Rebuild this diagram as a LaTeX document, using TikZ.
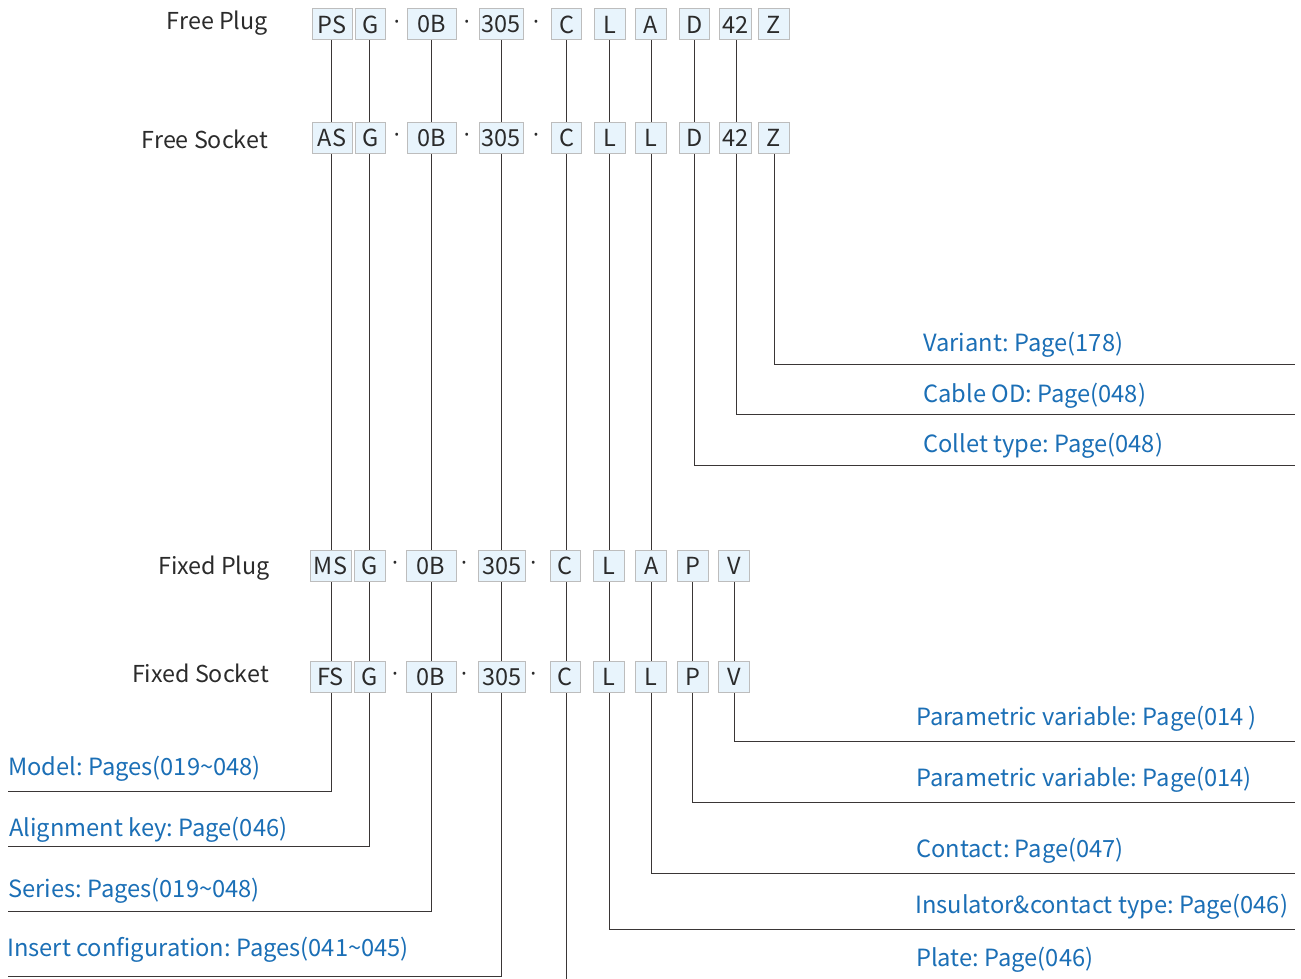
\documentclass[tikz,border=0pt]{standalone}
\usepackage{fontspec}
\setmainfont{Noto Sans CJK SC}
\newfontfamily\dotfont{Noto Sans}
\definecolor{boxfill}{HTML}{E8F4FC}
\definecolor{boxdraw}{HTML}{BDBDBD}
\definecolor{lbl}{HTML}{1B6FB6}
\definecolor{txt}{HTML}{2B2B2B}
\definecolor{ln}{HTML}{3A3636}
\tikzset{
  cell/.style={draw=boxdraw, fill=boxfill, line width=1pt, inner sep=0pt, minimum height=31pt, text=txt, font=\fontsize{23.5}{26}\selectfont},
  sepdot/.style={inner sep=0pt, text=txt, font=\dotfont\fontsize{22}{26}\selectfont},
  rowlbl/.style={anchor=east, inner sep=0pt, text=txt, font=\fontsize{23.3}{26}\selectfont},
  info/.style={anchor=west, inner sep=0pt, text=lbl, font=\fontsize{23.7}{26}\selectfont},
  conn/.style={draw=ln, line width=1.1pt}
}
\begin{document}
\frenchspacing
\begin{tikzpicture}[x=1pt,y=-1pt]
\useasboundingbox[fill=white] (0,0) rectangle (1301,979);
% row labels
\node[rowlbl] (lfp) at (268,23.5) {Free Plug};
\node[rowlbl] (lfs) at (268,139) {Free Socket};
\node[rowlbl] (lmp) at (270,568) {Fixed Plug};
\node[rowlbl] (lms) at (269,673) {Fixed Socket};
% Free Plug row
\foreach \n/\x/\w/\t in {1/332/40/PS, 2/370.5/30/G, 3/431.5/49/0B, 4/501/44/305, 5/566.7/30/C, 6/609.7/31/L, 7/650.5/31/A, 8/694.3/30/D, 9/735.5/32/42, 10/773.8/31/Z}
  \node[cell, minimum width=\w pt] (a\n) at (\x,24.5) {\t};
\foreach \n/\x in {1/396.7, 2/466.7, 3/536}
  \node[sepdot] (ad\n) at (\x,24.5) {·};
% Free Socket row
\foreach \n/\x/\w/\t in {1/332/40/AS, 2/370.5/30/G, 3/431.5/49/0B, 4/501/44/305, 5/566.7/30/C, 6/609.7/31/L, 7/650.5/31/L, 8/694.3/30/D, 9/735.5/32/42, 10/773.8/31/Z}
  \node[cell, minimum width=\w pt] (b\n) at (\x,138.3) {\t};
\foreach \n/\x in {1/396.7, 2/466.7, 3/536}
  \node[sepdot] (bd\n) at (\x,138.3) {·};
% Fixed Plug row
\foreach \n/\x/\w/\t in {1/330.5/41/MS, 2/369.5/31/G, 3/431/50/0B, 4/502.3/47/305, 5/565/30/C, 6/609/31/L, 7/651.3/31/A, 8/692.8/31/P, 9/734/31/V}
  \node[cell, minimum width=\w pt] (c\n) at (\x,566.2) {\t};
\foreach \n/\x in {1/395, 2/464, 3/533.3}
  \node[sepdot] (cd\n) at (\x,566.2) {·};
% Fixed Socket row
\foreach \n/\x/\w/\t in {1/330.5/41/FS, 2/369.5/31/G, 3/431/50/0B, 4/502.3/47/305, 5/565/30/C, 6/609/31/L, 7/651.3/31/L, 8/692.8/31/P, 9/734/31/V}
  \node[cell, minimum width=\w pt] (d\n) at (\x,677) {\t};
\foreach \n/\x in {1/395, 2/464, 3/533.3}
  \node[sepdot] (dd\n) at (\x,677) {·};
% connectors: top rows
\foreach \n/\x in {1/331.5, 2/369.5, 3/431.5, 4/501.5, 5/566.5, 6/609.5, 7/651.5, 8/694.5, 9/736.5}
  \draw[conn] (a\n.south -| \x,0) -- (b\n.north -| \x,0);
% Free Socket down to Fixed Plug
\foreach \n/\x in {1/331.5, 2/369.5, 3/431.5, 4/501.5, 5/566.5, 6/609.5, 7/651.5}
  \draw[conn] (b\n.south -| \x,0) -- (c\n.north -| \x,0);
% Fixed Plug to Fixed Socket
\foreach \n/\x in {1/331.5, 2/369.5, 3/431.5, 4/501.5, 5/566.5, 6/609.5, 7/651.5, 8/692.5, 9/734.5}
  \draw[conn] (c\n.south -| \x,0) -- (d\n.north -| \x,0);
% right side upper labels
\node[info] (tvar) at (923,345) {Variant: Page(178)};
\node[info] (tcab) at (923,396) {Cable OD: Page(048)};
\node[info] (tcol) at (923,446) {Collet type: Page(048)};
\coordinate (rvar) at (1295,364.5);
\coordinate (rcab) at (1295,414.5);
\coordinate (rcol) at (1295,465.5);
\draw[conn] (b10.south -| 774.5,0) |- (rvar);
\draw[conn] (b9.south -| 736.5,0) |- (rcab);
\draw[conn] (b8.south -| 694.5,0) |- (rcol);
% right side lower labels
\node[info] (tpv1) at (916,719) {Parametric variable: Page(014 )};
\node[info] (tpv2) at (916,780) {Parametric variable: Page(014)};
\node[info] (tcon) at (916,851) {Contact: Page(047)};
\node[info] (tins) at (915,907) {Insulator\&contact type: Page(046)};
\node[info] (tpla) at (916,960) {Plate: Page(046)};
\coordinate (rpv1) at (1295,741.5);
\coordinate (rpv2) at (1295,802.5);
\coordinate (rcon) at (1295,873.5);
\coordinate (rins) at (1295,929.5);
\draw[conn] (d9.south -| 734.5,0) |- (rpv1);
\draw[conn] (d8.south -| 692.5,0) |- (rpv2);
\draw[conn] (d7.south -| 651.5,0) |- (rcon);
\draw[conn] (d6.south -| 609.5,0) |- (rins);
\coordinate (cend) at (566.5,979);
\draw[conn] (d5.south -| 566.5,0) -- (cend);
% left side labels
\node[info] (tmod) at (8,769) {Model: Pages(019\textasciitilde 048)};
\node[info] (tali) at (9,830) {Alignment key: Page(046)};
\node[info] (tser) at (8,891) {Series: Pages(019\textasciitilde 048)};
\node[info] (tins2) at (7,950) {Insert configuration: Pages(041\textasciitilde 045)};
\coordinate (lmod) at (8,791.5);
\coordinate (lali) at (8,846.5);
\coordinate (lser) at (8,911.5);
\coordinate (lins) at (8,976.5);
\draw[conn] (d1.south -| 331.5,0) |- (lmod);
\draw[conn] (d2.south -| 369.5,0) |- (lali);
\draw[conn] (d3.south -| 431.5,0) |- (lser);
\draw[conn] (d4.south -| 501.5,0) |- (lins);
\end{tikzpicture}
\end{document}
